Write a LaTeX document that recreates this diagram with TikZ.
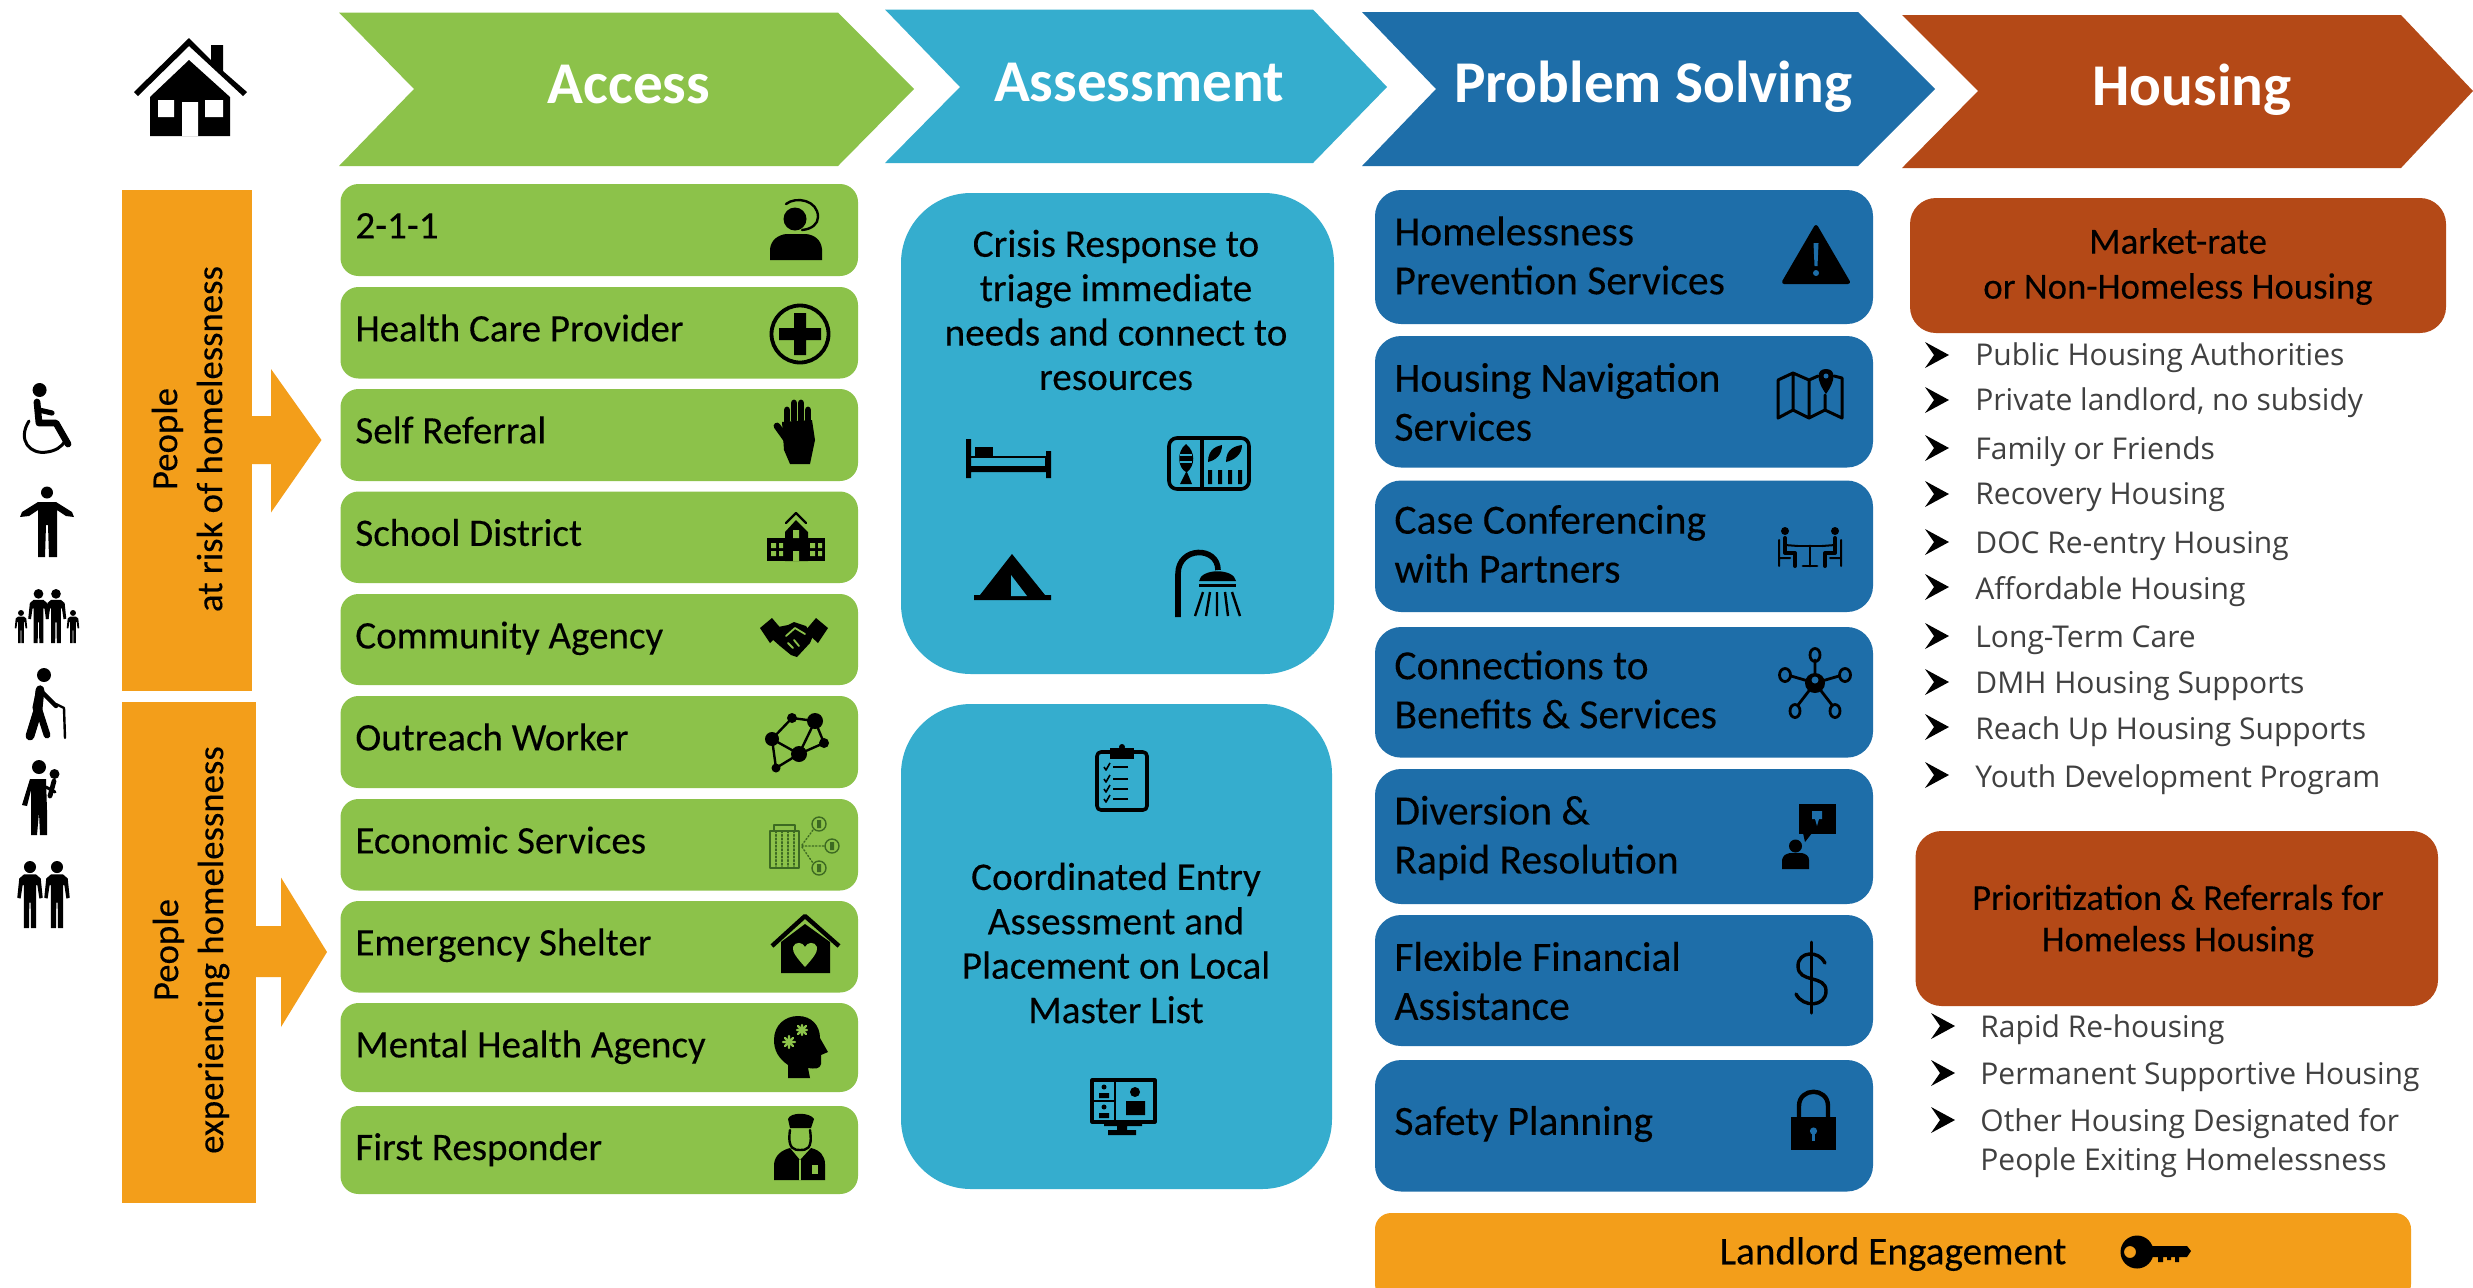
\documentclass[tikz,border=0pt]{standalone}
\usepackage{fontspec}
\setmainfont[FakeBold=0.22]{Carlito}
\newfontfamily\hdrfont{Carlito}
\newfontfamily\listfont{Open Sans}
\definecolor{cgreen}{HTML}{8CC24A}
\definecolor{cteal}{HTML}{35ADCE}
\definecolor{cblue}{HTML}{1E6EA9}
\definecolor{cbrown}{HTML}{B44917}
\definecolor{corange}{HTML}{F39E1A}
\definecolor{cdgreen}{HTML}{3D6A22}
\definecolor{clist}{HTML}{404040}
\newcommand\fsz[2]{\fontsize{#1}{#2}\selectfont}
\newcommand\PersonFig[3]{\begin{scope}[shift={(#1,#2)},scale=#3]
\fill (0,9) circle (9);
\fill (-9,20)--(9,20)--(16,26)--(19,55)--(14,56)--(11,36)--(9,36)--(9,100)--(1.5,100)--(1,62)--(-1,62)--(-1.5,100)--(-9,100)--(-9,36)--(-11,36)--(-14,56)--(-19,55)--(-16,26)--cycle;
\end{scope}}
\newcommand\Bul[2]{\fill (#1,#2-13)--(#1+24,#2)--(#1,#2+13)--(#1+9,#2)--cycle;}
\tikzset{
 hdr/.style={font=\hdrfont\fsz{29.6}{32}\bfseries,text=white,inner sep=0pt},
 glabel/.style={font=\fsz{19.5}{22},anchor=west,inner sep=0pt,text height=13pt,text depth=4pt,yshift=-1.7pt},
 blabel/.style={font=\fsz{20.8}{24.5},anchor=west,align=left,inner sep=0pt},
 tlabel/.style={font=\fsz{19.6}{22.2},align=center,inner sep=0pt},
 rlabel/.style={font=\fsz{18.4}{22.5},align=center,inner sep=0pt},
 ylabel/.style={font=\fsz{18.4}{22.5},align=center,inner sep=0pt,rotate=90},
 llabel/.style={font=\listfont\fsz{15}{19.5},text=clist,anchor=west,inner sep=0pt,align=left,text height=10pt,text depth=3pt,yshift=-1.5pt,xshift=-.5pt},
 gbox/.style={fill=cgreen,rounded corners=9pt},
 bbox/.style={fill=cblue,rounded corners=13pt},
 tbox/.style={fill=cteal,rounded corners=35pt},
 rbox/.style={fill=cbrown,rounded corners=13pt},
 st/.style={line width=1.2pt},
}
\begin{document}
\begin{tikzpicture}[x=.5pt,y=-.5pt]
\useasboundingbox (0,0) rectangle (2473,1287);
\fill[white] (0,0) rectangle (2473,1287);
% chevrons
\fill[cgreen] (339,12.5)--(838,12.5)--(914,89)--(838,166)--(339,166)--(414,89)--cycle;
\fill[cteal] (885,9.5)--(1313,9.5)--(1387,87)--(1313,163)--(885,163)--(960,87)--cycle;
\fill[cblue] (1362,12)--(1858,12)--(1935,89)--(1858,166)--(1362,166)--(1436,89)--cycle;
\fill[cbrown] (1902,15)--(2401,15)--(2473,91)--(2401,168)--(1902,168)--(1978,91)--cycle;
\node[hdr] (h1) at (629,85) {Access};
\node[hdr] (h2) at (1139,83) {Assessment};
\node[hdr] (h3) at (1653,87) {Problem Solving};
\node[hdr] (h4) at (2192,90) {Housing};
% house
\fill (134,92)--(189,38)--(211,60)--(211,45)--(223,45)--(223,71)--(247,92)--(243,96)--(189,46)--(138,96)--cycle;
\fill (150,136)--(150,97)--(189,60)--(230,97)--(230,136)--cycle;
\fill[white] (158,100) rectangle (174,117) (205,100) rectangle (223,117) (182,102) rectangle (198,136);
% orange bars
\fill[corange] (122,190) rectangle (251.5,691);
\fill[corange] (251,416)--(271,416)--(271,369)--(321.5,440)--(271,512.5)--(271,464)--(251,464)--cycle;
\fill[corange] (122,702) rectangle (255.5,1202.5);
\fill[corange] (255,926)--(281,926)--(281,877.5)--(327,952)--(281,1027)--(281,977)--(255,977)--cycle;
\node[ylabel] (y1) at (187,439) {People\\at risk of homelessness};
\node[ylabel] (y2) at (191,950) {People\\experiencing homelessness};
% people column
\begin{scope}[line cap=round,line join=round]
% wheelchair
\fill (39.6,390) circle (7);
\draw[line width=3.4pt] (37,402)--(39,423)--(56,423)--(68,444);
\draw[line width=2.6pt] (39,410)--(52,413);
\draw[line width=1.5pt] (29,421) .. controls (17,440) and (30,455) .. (47,452) .. controls (55,451) and (62,447) .. (65,441);
% arms-out person
\fill (47,492.5) circle (6);
\fill (38,502)--(56,502)--(72,512)--(74,517)--(66,516)--(57,510)--(57,557)--(49,557)--(48,525)--(46,525)--(45,557)--(38,557)--(38,510)--(29,516)--(20,517)--(22,512)--cycle;
% family
\PersonFig{38.5}{589}{.54}
\PersonFig{56}{589}{.54}
\PersonFig{21}{610}{.33}
\PersonFig{73}{610}{.33}
% elder
\fill (44,675) circle (7);
\draw[line width=3.6pt] (40,689)--(36,708);
\draw[line width=4.4pt] (40,690)--(38,710)--(30,736);
\draw[line width=3.4pt] (39,710)--(47,735);
\draw[line width=2.2pt] (42,692)--(56,706);
\draw[line width=1.2pt] (56,704)--(64,708)--(65,738);
% parent and child
\fill (39,767) circle (7);
\fill (54.5,774) circle (5);
\fill (30,779)--(46,779)--(47,810)--(47,835)--(40,835)--(39,812)--(37,835)--(31,835)--(31,790)--(27,806)--(22,805)--cycle;
\draw[line width=2.4pt] (54,781)--(50,796);
\draw[line width=1.5pt] (46,787)--(55,792);
\PersonFig{30}{861}{.67}
\PersonFig{57}{861}{.67}
\end{scope}
% green boxes
\fill[gbox] (340.5,184) rectangle (858,276);
\fill[gbox] (340.5,287) rectangle (858,378.5);
\fill[gbox] (340.5,389) rectangle (858,481);
\fill[gbox] (340.5,491.5) rectangle (858,583);
\fill[gbox] (340.5,594) rectangle (858,685);
\fill[gbox] (340.5,696) rectangle (858,788);
\fill[gbox] (340.5,799) rectangle (858,890.5);
\fill[gbox] (340.5,901) rectangle (858,992.5);
\fill[gbox] (340.5,1003) rectangle (858,1092);
\fill[gbox] (340.5,1106) rectangle (858,1194);
\node[glabel] (g1) at (355,226) {2-1-1};
\node[glabel] (g2) at (355,329) {Health Care Provider};
\node[glabel] (g3) at (355,431) {Self Referral};
\node[glabel] (g4) at (355,533.5) {School District};
\node[glabel] (g5) at (355,636) {Community Agency};
\node[glabel] (g6) at (355,738) {Outreach Worker};
\node[glabel] (g7) at (355,841) {Economic Services};
\node[glabel] (g8) at (355,943) {Emergency Shelter};
\node[glabel] (g9) at (355,1045) {Mental Health Agency};
\node[glabel] (g10) at (355,1147.6) {First Responder};
% green icons
\begin{scope}[line cap=round,line join=round]
% headset person
\fill (795,219) circle (11.5);
\fill (770,260)--(770,249) .. controls (771,240) and (778,235) .. (786,234)--(806,234) .. controls (815,235) and (821,240) .. (822,249)--(822,260)--cycle;
\draw[st] (786,204) .. controls (796,196) and (818,200) .. (818,217) .. controls (818,224) and (812,229) .. (802,230);
% health
\draw[line width=1.9pt] (800,334) circle (28.5);
\fill (794,313) rectangle (806,355) (779,328) rectangle (821,340);
% hand
\draw[line width=3.4pt] (787,421)--(787,410) (794,420)--(794,403) (801,420)--(801,403) (808,422)--(808,410);
\draw[line width=3.4pt] (787,440)--(777,426);
\fill (782,422)--(812,420)--(815,440)--(810,464)--(790,464)--(784,450)--cycle;
% school
\draw[st] (786,523)--(796,513)--(806,523);
\fill (785,561)--(785,532)--(796,520)--(808,532)--(808,561)--cycle;
\fill (767,561)--(767,538)--(825,538)--(825,561)--cycle;
\fill[cgreen] (771,543) rectangle (776,548) (779,543) rectangle (783,548) (771,551) rectangle (776,556) (779,551) rectangle (783,556) (810,543) rectangle (815,548) (818,543) rectangle (822,548) (810,551) rectangle (815,556) (818,551) rectangle (822,556) (793,551) rectangle (799,561) (793,530) rectangle (799,538);
% handshake
\fill (760,628)--(772,618)--(783,631)--(770,643)--cycle;
\fill (828,628)--(816,618)--(805,631)--(818,643)--cycle;
\fill (773,628)--(788,625)--(794,622)--(806,626)--(813,636)--(810,643)--(797,657)--(791,655)--(780,646)--(771,638)--cycle;
\draw[cgreen,line width=.9pt] (786,636)--(795,628)--(805,634) (793,648)--(788,643) (799,646)--(794,640);
% outreach network
\draw[st] (772,739)--(792,718)--(815,721)--(824,743)--(799,754)--(772,739) (772,739)--(776,768)--(799,754) (815,721)--(799,754);
\fill (772,739) circle (7) (792,718) circle (5) (815,721) circle (8) (824,743) circle (5) (799,754) circle (8) (776,768) circle (4.5);
% economic
\begin{scope}[cdgreen]
\draw[line width=.8pt] (770,831) rectangle (799,868);
\draw[line width=.8pt] (774,831)--(774,825)--(795,825)--(795,831);
\draw[line width=.8pt,densely dotted] (776,831)--(776,868) (782,831)--(782,868) (788,831)--(788,868) (794,831)--(794,868);
\draw[line width=.7pt] (819,824) circle (7) (832,846) circle (7) (819,868) circle (7);
\draw[line width=.7pt,densely dotted] (802,845)--(813,830) (802,846)--(824,846) (802,847)--(813,863);
\fill (817,820) rectangle (821,828) (830,842) rectangle (834,850) (817,864) rectangle (821,872);
\end{scope}
% shelter
\draw[line width=2.2pt,line cap=butt] (772,946)--(805,916)--(839,946);
\fill (781,973)--(781,942)--(805,924)--(830,942)--(830,973)--cycle;
\fill[cgreen] (805,967) .. controls (797,958) and (792,952) .. (793,947) .. controls (795,941) and (803,942) .. (805,947) .. controls (807,942) and (815,941) .. (817,947) .. controls (818,952) and (813,958) .. (805,967) -- cycle;
% mental head
\fill (788,1078) -- (788,1065) .. controls (778,1058) and (774,1050) .. (774,1040) .. controls (774,1025) and (785,1016) .. (798,1016) .. controls (812,1016) and (820,1026) .. (820,1038) -- (828,1052) -- (821,1055) -- (821,1064) .. controls (820,1069) and (815,1069) .. (808,1068) -- (810,1078) -- cycle;
\draw[cgreen,line width=1.1pt] (783,1042)--(795,1042) (789,1036)--(789,1048) (785,1038)--(793,1046) (793,1038)--(785,1046) (797,1030)--(807,1030) (802,1025)--(802,1035) (798,1026)--(806,1034) (806,1026)--(798,1034);
% responder
\fill (788,1119) .. controls (790,1112) and (810,1112) .. (814,1119)--(811,1128)--(790,1128)--cycle;
\draw[st] (790,1130) .. controls (787,1150) and (795,1150) .. (800,1150) .. controls (806,1150) and (813,1150) .. (810,1130);
\fill (774,1180)--(774,1164) .. controls (775,1155) and (782,1150) .. (790,1148)--(800,1160)--(811,1148) .. controls (820,1150) and (825,1156) .. (825,1164)--(825,1180)--cycle;
\draw[cgreen,line width=.7pt] (800,1160)--(800,1180);
\fill[cgreen] (812,1165) rectangle (818,1174);
\end{scope}
% assessment boxes
\fill[tbox] (901,193) rectangle (1334,674);
\fill[tbox] (901,704) rectangle (1332,1189);
\node[tlabel] (t1) at (1116,310) {Crisis Response to\\triage immediate\\needs and connect to\\resources};
\node[tlabel] (t2) at (1116,943) {Coordinated Entry\\Assessment and\\Placement on Local\\Master List};
% assessment icons
\begin{scope}[line join=round]
% bed
\fill (966,439) rectangle (971,478) (1046,451) rectangle (1051,478) (966,466) rectangle (1051,472);
\draw[st] (971,457)--(1046,457)--(1046,466);
\fill (975,447) rectangle (993,457);
% tray
\draw[line width=1.8pt,rounded corners=4pt] (1169,438) rectangle (1249,489);
\draw[line width=1.6pt] (1202,438)--(1202,489);
\fill (1186,444) .. controls (1176,452) and (1178,468) .. (1186,472)--(1180,484)--(1192,484)--(1187,472) .. controls (1195,466) and (1196,452) .. (1186,444)--cycle;
\draw[cteal,line width=.6pt] (1180,455)--(1192,455) (1180,462)--(1192,462);
\fill (1208,470) rectangle (1212,484) (1218,470) rectangle (1222,484) (1228,470) rectangle (1232,484) (1238,470) rectangle (1242,484);
\fill (1208,462) .. controls (1208,448) and (1218,446) .. (1222,445) .. controls (1222,455) and (1216,460) .. (1208,462) (1226,462) .. controls (1226,448) and (1236,446) .. (1242,445) .. controls (1242,455) and (1234,460) .. (1226,462);
% tent
\fill (1012,554)--(1045,595)--(1051,595)--(1051,600)--(974,600)--(974,595)--(980,595)--cycle;
\fill[cteal] (1011,575)--(1011,596)--(1027,596)--cycle;
% shower
\draw[line width=2.8pt] (1178,617)--(1178,574) .. controls (1178,546) and (1218,546) .. (1218,570);
\fill (1199,581) .. controls (1201,568) and (1234,568) .. (1236,581)--cycle;
\fill (1199,584) rectangle (1236,587);
\draw[line width=1.2pt] (1203,592)--(1195,616) (1210,592)--(1206,616) (1217,592)--(1217,616) (1225,592)--(1228,616) (1232,592)--(1240,616);
% clipboard
\draw[line width=1.8pt,rounded corners=2pt] (1097,752) rectangle (1147,810);
\fill (1110,748) rectangle (1134,759);
\fill (1122,747) circle (3);
\draw[line width=.8pt] (1113,767)--(1128,767)(1113,779)--(1128,779) (1113,789)--(1128,789) (1113,799)--(1128,799);
\draw[line width=.8pt] (1104,767)--(1106,770)--(1110,763) (1104,779)--(1106,782)--(1110,775) (1104,789)--(1106,792)--(1110,785) (1104,799)--(1106,802)--(1110,795);
% screen
\draw[line width=1.6pt] (1092,1080) rectangle (1155,1122);
\draw[line width=1pt] (1115,1080)--(1115,1122) (1092,1101)--(1115,1101);
\fill (1104,1122) rectangle (1142,1126) (1117,1126) rectangle (1127,1131) (1108,1130) rectangle (1136,1135);
\fill (1104,1087) circle (2.5) (1104,1107) circle (2.5) (1135,1092) circle (5);
\fill (1099,1098) rectangle (1109,1093) (1099,1118) rectangle (1109,1113) (1126,1115) rectangle (1145,1101);
\end{scope}
% blue boxes
\fill[bbox] (1375,190) rectangle (1873,324);
\fill[bbox] (1375,336) rectangle (1873,467.5);
\fill[bbox] (1375,480.5) rectangle (1873,612);
\fill[bbox] (1375,627) rectangle (1873,757.6);
\fill[bbox] (1375,769) rectangle (1873,904);
\fill[bbox] (1375,915) rectangle (1873,1046);
\fill[bbox] (1375,1060) rectangle (1873,1191.5);
\node[blabel] (p1) at (1394,255.5) {Homelessness\\Prevention Services};
\node[blabel] (p2) at (1394,402) {Housing Navigation\\Services};
\node[blabel] (p3) at (1394,544) {Case Conferencing\\with Partners};
\node[blabel] (p4) at (1394,689.5) {Connections to\\Benefits \& Services};
\node[blabel] (p5) at (1394,838) {Diversion \&\\Rapid Resolution};
\node[blabel] (p6) at (1394,981) {Flexible Financial\\Assistance};
\node[blabel] (p7) at (1394,1124) {Safety Planning};
% blue icons
\begin{scope}[line join=round,line cap=round]
% warning
\fill[draw=black,line width=2pt] (1816,227)--(1848,282)--(1784,282)--cycle;
\fill[cblue] (1813.5,243)--(1818.5,243)--(1817.5,266)--(1814.5,266)--cycle;
\fill[cblue] (1816,273) circle (3);
% map
\draw[line width=1.5pt] (1778,380)--(1793,373)--(1809,380)--(1818,376) (1834,376)--(1842,378)--(1842,418)--(1825,410)--(1809,418)--(1793,410)--(1778,418)--(1778,380) (1793,373)--(1793,410) (1809,380)--(1809,418) (1825,395)--(1825,410);
\fill (1826,369) .. controls (1816,369) and (1816,380) .. (1826,394) .. controls (1836,380) and (1836,369) .. (1826,369)--cycle;
\fill[cblue] (1826,376) circle (2.5);
% conference
\draw[line width=1.4pt] (1798,546)--(1822,546) (1810,546)--(1810,566) (1803,566)--(1817,566);
\fill (1785,531) circle (4) (1835,531) circle (4);
\draw[line width=2pt] (1785,538)--(1785,553)--(1795,553)--(1795,566) (1835,538)--(1835,553)--(1825,553)--(1825,566);
\draw[line width=1pt] (1779,540)--(1779,566) (1779,558)--(1790,558) (1841,540)--(1841,566) (1841,558)--(1830,558) (1785,545)--(1798,546) (1835,545)--(1822,546);
% network
\draw[line width=1.4pt] (1815,683)--(1815,660) (1815,683)--(1791,676) (1815,683)--(1839,676) (1815,683)--(1798,705) (1815,683)--(1832,705);
\draw[line width=1.4pt] (1815,655) ellipse (5 and 6.5) (1785,675) ellipse (5.5 and 6.5) (1845,675) ellipse (5.5 and 6.5) (1795,711) ellipse (5 and 6.5) (1835,711) ellipse (5 and 6.5);
\fill (1815,683) circle (10);
\fill[cblue] (1815,680) circle (3.5);
% diversion
\fill (1799,804) rectangle (1836,834);
\fill (1803,833)--(1812,833)--(1805,842)--cycle;
\fill[cblue] (1812,811) rectangle (1822,819) (1815,819)--(1819,819)--(1817,826)--cycle;
\fill (1795.5,846) circle (6.5);
\fill (1782,869)--(1782,860) .. controls (1783,855) and (1786,854) .. (1790,853)--(1802,853) .. controls (1806,854) and (1809,856) .. (1809,860)--(1809,869)--cycle;
% dollar
\draw[line width=1.5pt] (1811,942)--(1811,1013);
\draw[line width=1.7pt] (1825,963) .. controls (1819,950) and (1798,951) .. (1798,966) .. controls (1798,984) and (1826,974) .. (1826,991) .. controls (1826,1007) and (1803,1008) .. (1796,994);
% lock
\draw[line width=2.2pt] (1799,1118)--(1799,1106) .. controls (1799,1087) and (1828,1087) .. (1828,1106)--(1828,1118);
\fill (1791,1117) rectangle (1836,1150);
\fill[cblue] (1813.5,1131) circle (3.6);
\fill[cblue] (1812,1132) rectangle (1815,1141);
\end{scope}
% landlord
\fill[corange,rounded corners=8pt] (1375,1300)--(1375,1213)--(2411,1213)--(2411,1300)--cycle;
\node[font=\fsz{19.6}{22},inner sep=0pt] (land) at (1893,1254) {Landlord Engagement};
% key
\fill[even odd rule] (2137,1252) circle (16.5) (2130,1252) circle (6);
\fill (2150,1246) rectangle (2187,1257) (2187,1246)--(2191,1251)--(2187,1257)--cycle (2158,1256) rectangle (2163,1262) (2167,1256) rectangle (2171,1260) (2175,1256) rectangle (2179,1262);
% brown boxes
\fill[rbox] (1910,198) rectangle (2446,333);
\fill[rbox] (1915.5,831) rectangle (2438,1006);
\node[rlabel] (r1) at (2178,266.5) {Market-rate\\or Non-Homeless Housing};
\node[rlabel,font=\fsz{18.2}{20.7}] (r2) at (2178,921) {Prioritization \& Referrals for\\Homeless Housing};
% lists
\Bul{1925}{355}\node[llabel] (l1) at (1976,355) {Public Housing Authorities};
\Bul{1925}{400}\node[llabel] (l2) at (1976,400) {Private landlord, no subsidy};
\Bul{1925}{448}\node[llabel] (l3) at (1976,449) {Family or Friends};
\Bul{1925}{494}\node[llabel] (l4) at (1976,494) {Recovery Housing};
\Bul{1925}{542}\node[llabel] (l5) at (1976,543) {DOC Re-entry Housing};
\Bul{1925}{587}\node[llabel] (l6) at (1976,589) {Affordable Housing};
\Bul{1925}{636}\node[llabel] (l7) at (1976,637.5) {Long-Term Care};
\Bul{1925}{682}\node[llabel] (l8) at (1976,683) {DMH Housing Supports};
\Bul{1925}{727}\node[llabel] (l9) at (1976,729) {Reach Up Housing Supports};
\Bul{1925}{775}\node[llabel] (l10) at (1976,777) {Youth Development Program};
\Bul{1931}{1026}\node[llabel] (m1) at (1981,1027) {Rapid Re-housing};
\Bul{1931}{1073}\node[llabel] (m2) at (1981,1074) {Permanent Supportive Housing};
\Bul{1931}{1120}\node[llabel] (m3) at (1981,1121) {Other Housing Designated for};
\node[llabel] (m4) at (1981,1160) {People Exiting Homelessness};
\end{tikzpicture}
\end{document}
